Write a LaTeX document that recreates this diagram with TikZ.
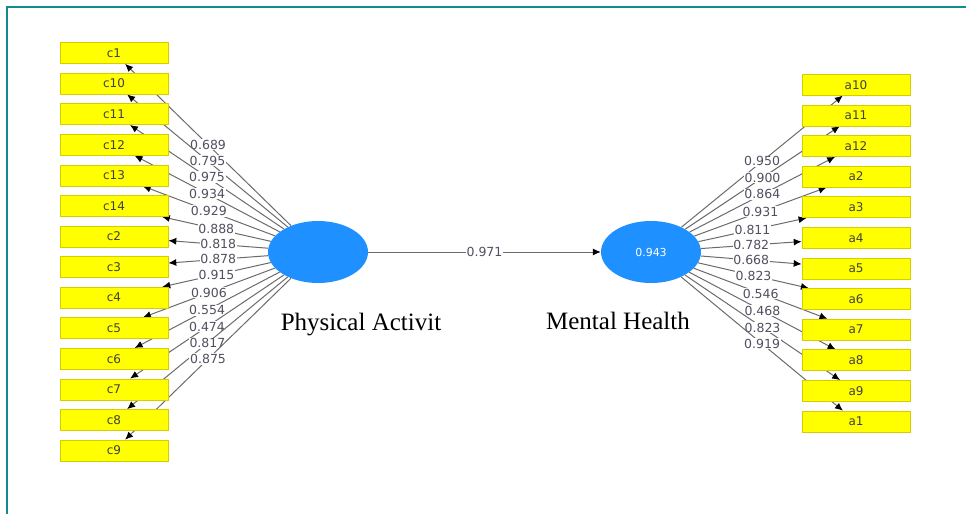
\documentclass[tikz,border=0pt]{standalone}
\usepackage{fontspec}
\setmainfont{Liberation Serif}
\newfontfamily\labfont{DejaVu Sans}
\usetikzlibrary{shapes.geometric,arrows.meta}
\pgfdeclarelayer{background}
\pgfsetlayers{background,main}
\definecolor{teal1}{HTML}{138A8C}
\definecolor{lvblue}{HTML}{1E90FF}
\definecolor{boxyel}{HTML}{FFFF00}
\definecolor{boxedge}{HTML}{D6CC00}
\definecolor{lbl}{HTML}{505060}
\tikzset{
  indbox/.style={rectangle, fill=boxyel, draw=boxedge, line width=0.6pt,
    minimum width=108pt, minimum height=21pt, inner sep=0pt,
    font=\labfont\fontsize{12}{12}\selectfont, text=black!75},
  latent/.style={ellipse, fill=lvblue, draw=none, minimum width=100pt,
    minimum height=62pt, inner sep=0pt},
  conn/.style={draw=black!58, line width=1pt, -{Latex[length=8pt,width=7pt,color=black]}},
  lab/.style={fill=white, inner sep=0.8pt, text=lbl,
    font=\labfont\fontsize{12.5}{12.5}\selectfont},
  bigtext/.style={font=\fontsize{25}{28}\selectfont, text=black}
}
\begin{document}
\begin{tikzpicture}[x=1pt,y=-1pt]
\useasboundingbox (0,0) rectangle (966,514);
% frame
\draw[teal1, line width=1.6pt] (966,6.8) -- (6.8,6.8) -- (6.8,514);
% latent variables
\node[latent] (pa) at (318,252) {};
\node[latent] (mh) at (651,252) {\labfont\fontsize{11}{11}\selectfont\textcolor{white}{0.943}};
\node[bigtext, anchor=base] (palab) at (361,330.5) {Physical Activit};
\node[bigtext, anchor=base] (mhlab) at (618,329.5) {Mental Health};
% left indicators
\foreach \n/\l [count=\i from 0] in {c1/0.689,c10/0.795,c11/0.975,c12/0.934,c13/0.929,c14/0.888,c2/0.818,c3/0.878,c4/0.915,c5/0.906,c6/0.554,c7/0.474,c8/0.817,c9/0.875}{
  \node[indbox] (\n) at (114,{53+30.58*\i}) {\n};
  \begin{pgfonlayer}{background}
    \draw[conn] (pa) -- node[lab] {\l} (\n);
  \end{pgfonlayer}
}
% right indicators
\foreach \n/\l [count=\i from 0] in {a10/0.950,a11/0.900,a12/0.864,a2/0.931,a3/0.811,a4/0.782,a5/0.668,a6/0.823,a7/0.546,a8/0.468,a9/0.823,a1/0.919}{
  \node[indbox] (\n) at (856,{84.7+30.62*\i}) {\n};
  \begin{pgfonlayer}{background}
    \draw[conn] (mh) -- node[lab] {\l} (\n);
  \end{pgfonlayer}
}
% structural path
\draw[conn] (pa) -- node[lab] {0.971} (mh);
\end{tikzpicture}
\end{document}
